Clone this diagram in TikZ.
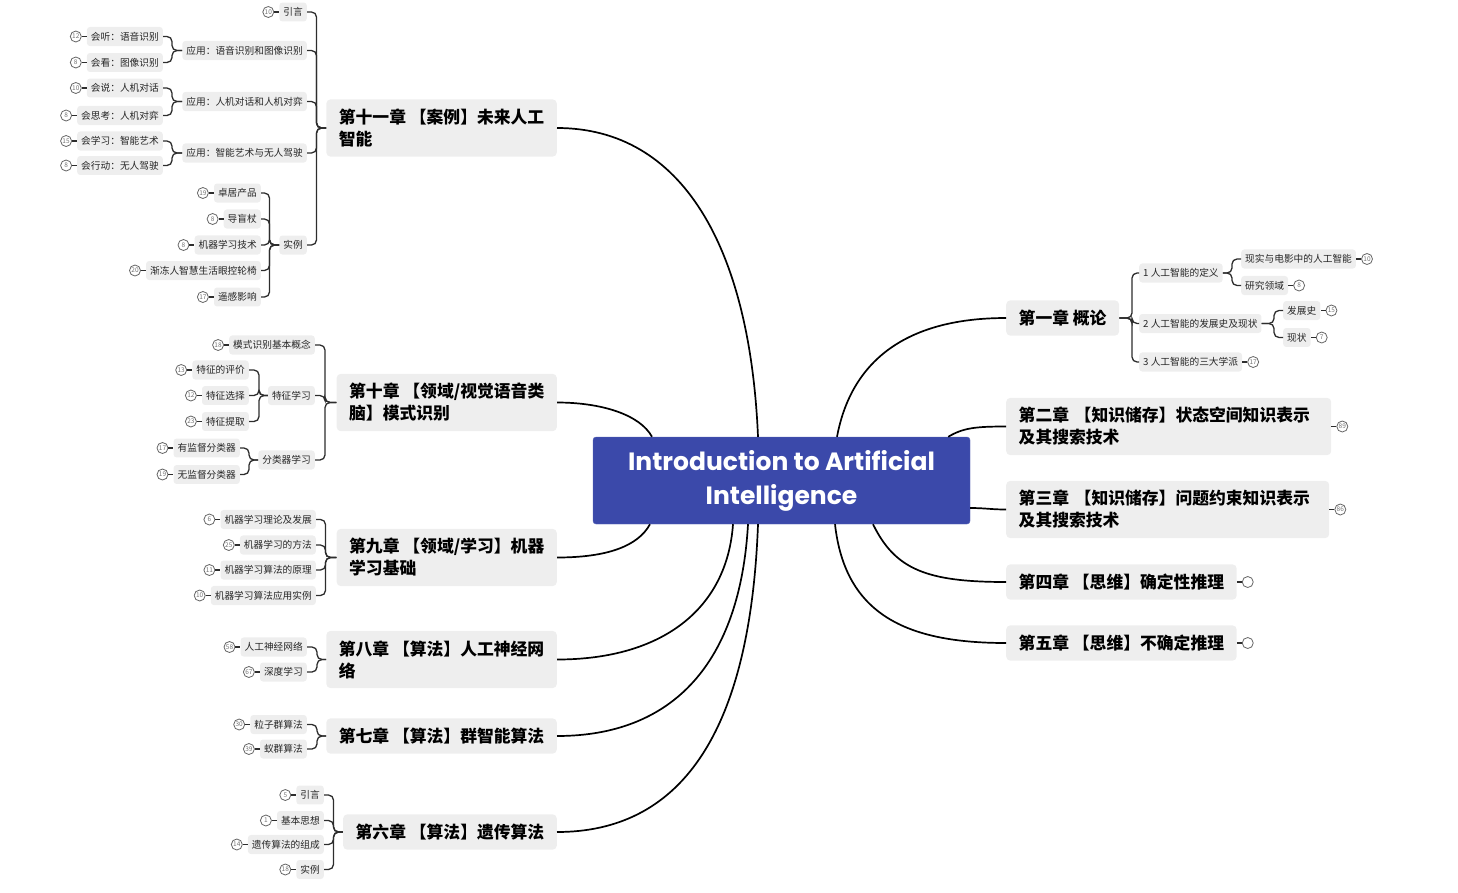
\documentclass[tikz,border=0pt]{standalone}
\usepackage{fontspec}
\setmainfont{Noto Sans CJK SC}
\newfontfamily\titlefont{Poppins}
\usetikzlibrary{positioning}
\definecolor{titleblue}{RGB}{59,73,170}
\definecolor{boxgray}{RGB}{238,238,238}
\definecolor{linegray}{RGB}{45,45,45}

\begin{document}
\begin{tikzpicture}[x=1pt,y=-1pt,
    titlebox/.style={fill=titleblue,draw=titleblue!85!white,rounded corners=3pt,text=white,
      font=\titlefont\bfseries\fontsize{25}{34}\selectfont,align=center,
      minimum width=377pt,minimum height=87pt},
    chapbox/.style={fill=boxgray,rounded corners=4pt,font=\bfseries\fontsize{16.8}{22}\selectfont,
      align=left,inner xsep=12.5pt,inner ysep=9.5pt},
    leafbox/.style={fill=boxgray,rounded corners=3pt,font=\fontsize{9.7}{11}\selectfont,
      text=black!85,inner xsep=4pt,inner ysep=5pt},
    numdot/.style={circle,draw=black!60,line width=0.8pt,fill=white,inner sep=0pt,minimum size=11pt,
      text=black!55,font=\fontsize{6.5}{6.5}\selectfont},
    branch/.style={black,line width=1.7pt},
    link/.style={linegray,line width=1.3pt,rounded corners=5pt},
    tick/.style={linegray,line width=1.1pt}]
  \useasboundingbox (0,0) rectangle (1458,892);

  % centre
  \node[titlebox] (ctr) at (781.5,480.5) {Introduction to Artificial\\Intelligence};

  % chapters on the left
  \node[chapbox,anchor=east] (ch11) at (557,128) {第十一章 【案例】未来人工\\智能};
  \node[chapbox,anchor=east] (ch10) at (557,402.5) {第十章 【领域/视觉语音类\\脑】模式识别};
  \node[chapbox,anchor=east] (ch9) at (557,557.5) {第九章 【领域/学习】机器\\学习基础};
  \node[chapbox,anchor=east] (ch8) at (557,659.5) {第八章 【算法】人工神经网\\络};
  \node[chapbox,anchor=east] (ch7) at (557,736) {第七章 【算法】群智能算法};
  \node[chapbox,anchor=east] (ch6) at (557,832) {第六章 【算法】遗传算法};

  % chapters on the right
  \node[chapbox,anchor=west] (ch1) at (1006,318) {第一章 概论};
  \node[chapbox,anchor=west,text width=300pt] (ch2) at (1006,426.5) {第二章 【知识储存】状态空间知识表示\\及其搜索技术};
  \node[chapbox,anchor=west,text width=298pt] (ch3) at (1006,509.5) {第三章 【知识储存】问题约束知识表示\\及其搜索技术};
  \node[chapbox,anchor=west] (ch4) at (1006,582) {第四章 【思维】确定性推理};
  \node[chapbox,anchor=west] (ch5) at (1006,643) {第五章 【思维】不确定推理};

  % main branches
  \draw[branch] ([xshift=-23.5pt]ctr.north) .. controls +(-8,-190) and +(125,0) .. (ch11.east);
  \draw[branch] ([xshift=-129.5pt]ctr.north) .. controls +(-12,-22) and +(45,0) .. (ch10.east);
  \draw[branch] ([xshift=-131.5pt]ctr.south) .. controls +(-12,22) and +(50,0) .. (ch9.east);
  \draw[branch] ([xshift=-48.5pt]ctr.south) .. controls +(-6,85) and +(105,0) .. (ch8.east);
  \draw[branch] ([xshift=-33.5pt]ctr.south) .. controls +(-8,140) and +(115,0) .. (ch7.east);
  \draw[branch] ([xshift=-23.5pt]ctr.south) .. controls +(-8,215) and +(120,0) .. (ch6.east);
  \draw[branch] ([xshift=55.5pt]ctr.north) .. controls +(15,-80) and +(-95,0) .. (ch1.west);
  \draw[branch] ([xshift=-22pt]ctr.north east) .. controls +(15,-9) and +(-30,0) .. (ch2.west);
  \draw[branch] ([yshift=-27.5pt]ctr.east) .. controls +(15,0) and +(-15,0) .. (ch3.west);
  \draw[branch] ([xshift=91.5pt]ctr.south) .. controls +(22,45) and +(-80,0) .. (ch4.west);
  \draw[branch] ([xshift=53.5pt]ctr.south) .. controls +(10,90) and +(-100,0) .. (ch5.west);

  % chapter 11
  \node[leafbox,anchor=east] (a1) at (307,12) {引言};
  \node[leafbox,anchor=east] (a2) at (307,50.5) {应用：语音识别和图像识别};
  \node[leafbox,anchor=east] (a3) at (307,101.5) {应用：人机对话和人机对弈};
  \node[leafbox,anchor=east] (a4) at (307,153) {应用：智能艺术与无人驾驶};
  \node[leafbox,anchor=east] (a5) at (307,245) {实例};
  \node[numdot,left=5pt of a1] (ka1) {10};
  \draw[tick] (ka1) -- (a1);
  \foreach \p in {a1,a2,a3,a4,a5}
    \draw[link] (\p.east) -- ++(9.5,0) |- (ch11.west);
  \foreach \nm/\y/\txt/\k/\prt in {a21/36.5/会听：语音识别/12/a2, a22/62.5/会看：图像识别/8/a2,
      a31/88/会说：人机对话/10/a3, a32/115.5/会思考：人机对弈/8/a3,
      a41/141/会学习：智能艺术/15/a4, a42/165.5/会行动：无人驾驶/8/a4} {
    \node[leafbox,anchor=east] (\nm) at (163,\y) {\txt};
    \node[numdot,left=5pt of \nm] (k\nm) {\k};
    \draw[tick] (k\nm) -- (\nm);
    \draw[link] (\nm.east) -- ++(9,0) |- (\prt.west);
  }
  \foreach \nm/\y/\txt/\k in {a51/193/卓居产品/19, a52/219/导盲杖/8, a53/245/机器学习技术/8,
      a54/270.5/渐冻人智慧生活眼控轮椅/20, a55/297/遥感影响/17} {
    \node[leafbox,anchor=east] (\nm) at (261,\y) {\txt};
    \node[numdot,left=5pt of \nm] (k\nm) {\k};
    \draw[tick] (k\nm) -- (\nm);
    \draw[link] (\nm.east) -- ++(8.5,0) |- (a5.west);
  }

  % chapter 10
  \node[leafbox,anchor=east] (b1) at (315,345) {模式识别基本概念};
  \node[leafbox,anchor=east] (b2) at (315,395.5) {特征学习};
  \node[leafbox,anchor=east] (b3) at (315,460) {分类器学习};
  \node[numdot,left=5pt of b1] (kb1) {18};
  \draw[tick] (kb1) -- (b1);
  \foreach \p in {b1,b2,b3}
    \draw[link] (\p.east) -- ++(10,0) |- (ch10.west);
  \foreach \nm/\y/\txt/\k in {b21/370/特征的评价/13, b22/395.5/特征选择/12, b23/421.5/特征提取/23} {
    \node[leafbox,anchor=east] (\nm) at (249,\y) {\txt};
    \node[numdot,left=5pt of \nm] (k\nm) {\k};
    \draw[tick] (k\nm) -- (\nm);
    \draw[link] (\nm.east) -- ++(10,0) |- (b2.west);
  }
  \foreach \nm/\y/\txt/\k in {b31/448/有监督分类器/17, b32/474.5/无监督分类器/19} {
    \node[leafbox,anchor=east] (\nm) at (240,\y) {\txt};
    \node[numdot,left=5pt of \nm] (k\nm) {\k};
    \draw[tick] (k\nm) -- (\nm);
    \draw[link] (\nm.east) -- ++(9,0) |- (b3.west);
  }

  % chapter 9
  \foreach \nm/\y/\txt/\k in {c1/519.5/机器学习理论及发展/6, c2/545/机器学习的方法/25,
      c3/570/机器学习算法的原理/11, c4/595.5/机器学习算法应用实例/10} {
    \node[leafbox,anchor=east] (\nm) at (316,\y) {\txt};
    \node[numdot,left=5pt of \nm] (k\nm) {\k};
    \draw[tick] (k\nm) -- (\nm);
    \draw[link] (\nm.east) -- ++(9.5,0) |- (ch9.west);
  }

  % chapter 8
  \foreach \nm/\y/\txt/\k in {d1/647/人工神经网络/58, d2/672/深度学习/67} {
    \node[leafbox,anchor=east] (\nm) at (307,\y) {\txt};
    \node[numdot,left=5pt of \nm] (k\nm) {\k};
    \draw[tick] (k\nm) -- (\nm);
    \draw[link] (\nm.east) -- ++(10,0) |- (ch8.west);
  }

  % chapter 7
  \foreach \nm/\y/\txt/\k in {e1/724.5/粒子群算法/30, e2/749/蚁群算法/39} {
    \node[leafbox,anchor=east] (\nm) at (307,\y) {\txt};
    \node[numdot,left=5pt of \nm] (k\nm) {\k};
    \draw[tick] (k\nm) -- (\nm);
    \draw[link] (\nm.east) -- ++(10,0) |- (ch7.west);
  }

  % chapter 6
  \foreach \nm/\y/\txt/\k in {f1/795/引言/5, f2/820.5/基本思想/1, f3/844.5/遗传算法的组成/14, f4/869.5/实例/18} {
    \node[leafbox,anchor=east] (\nm) at (324,\y) {\txt};
    \node[numdot,left=5pt of \nm] (k\nm) {\k};
    \draw[tick] (k\nm) -- (\nm);
    \draw[link] (\nm.east) -- ++(9.5,0) |- (ch6.west);
  }

  % chapter 1
  \node[leafbox,anchor=west] (g1) at (1139,273) {1 人工智能的定义};
  \node[leafbox,anchor=west] (g2) at (1139,323.5) {2 人工智能的发展史及现状};
  \node[leafbox,anchor=west] (g3) at (1139,362) {3 人工智能的三大学派};
  \node[numdot,right=5pt of g3] (kg3) {17};
  \draw[tick] (kg3) -- (g3);
  \foreach \p in {g1,g2,g3}
    \draw[link] (\p.west) -- ++(-7,0) |- (ch1.east);
  \foreach \nm/\y/\txt/\k/\prt/\gx in {g11/259/现实与电影中的人工智能/10/g1/1241, g12/285.5/研究领域/8/g1/1241,
      g21/310.5/发展史/15/g2/1283, g22/337.5/现状/7/g2/1283} {
    \node[leafbox,anchor=west] (\nm) at (\gx,\y) {\txt};
    \node[numdot,right=5pt of \nm] (k\nm) {\k};
    \draw[tick] (k\nm) -- (\nm);
    \draw[link] (\nm.west) -- ++(-9,0) |- (\prt.east);
  }

  % counters of the other chapters
  \node[numdot,right=5pt of ch2] (kch2) {89};
  \node[numdot,right=5pt of ch3] (kch3) {86};
  \node[numdot,right=5pt of ch4] (kch4) {};
  \node[numdot,right=5pt of ch5] (kch5) {};
  \foreach \p in {ch2,ch3,ch4,ch5}
    \draw[tick] (\p) -- (k\p);
\end{tikzpicture}
\end{document}
